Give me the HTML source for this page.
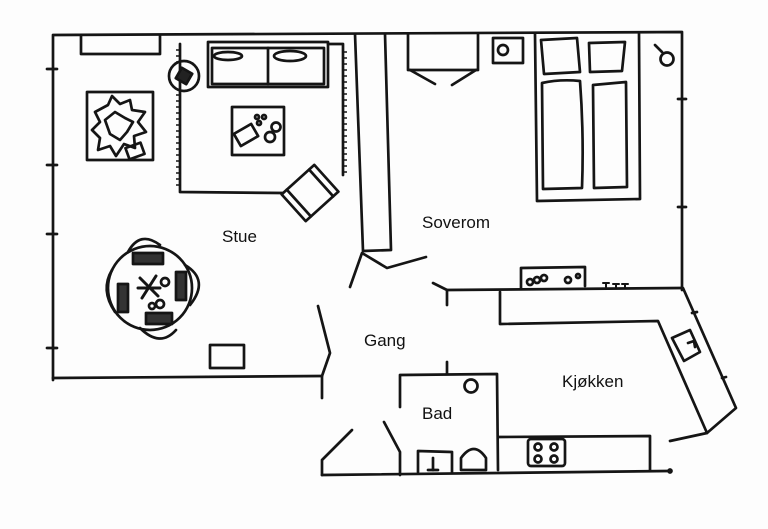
<!DOCTYPE html>
<html><head><meta charset="utf-8"><style>
html,body{margin:0;padding:0;background:#fff;}
svg{display:block}
text{font-family:"Liberation Sans",sans-serif;font-size:17px;fill:#111;}
</style></head><body>
<svg width="768" height="529" viewBox="0 0 768 529" xmlns="http://www.w3.org/2000/svg">
<rect width="768" height="529" fill="#fdfdfd"/>
<g fill="none" stroke="#151515" stroke-width="2.7" stroke-linecap="round" stroke-linejoin="round">
<polyline points="53,380 53,35 682,32 682,290"/>
<line x1="53" y1="378" x2="322" y2="376"/>
<line x1="47" y1="69" x2="57" y2="69"/><line x1="47" y1="165" x2="57" y2="165"/><line x1="47" y1="234" x2="57" y2="234"/><line x1="47" y1="348" x2="57" y2="348"/>
<line x1="678" y1="99" x2="686" y2="99"/><line x1="678" y1="207" x2="686" y2="207"/>
<polyline points="355,34 363,251 391,250 385,34"/>
<polyline points="350,287 362,253 387,268 426,257"/>
<polyline points="318,306 330,353 322,376 322,398"/>
<polyline points="352,430 322,460 322,475"/>
<polyline points="384,422 400,452 400,475"/>
<line x1="322" y1="475" x2="668" y2="471"/>
<circle cx="670" cy="471" r="1.5"/>
<polyline points="433,283 447,290 447,305"/>
<line x1="447" y1="290" x2="682" y2="288"/>
<polyline points="500,292 500,324 658,321 707,433 736,408 683,288"/>
<line x1="670" y1="441" x2="707" y2="433"/>
<polygon points="672,338 690,330 700,352 684,361"/>
<line x1="688" y1="343" x2="694" y2="341"/><line x1="694" y1="341" x2="695" y2="347"/>
<line x1="692" y1="313" x2="697" y2="312"/><line x1="722" y1="378" x2="726" y2="377"/>
<polyline points="400,407 400,375 497,374 498,470"/>
<line x1="447" y1="362" x2="447" y2="374"/>
<circle cx="471" cy="386" r="6.5"/>
<polyline points="418,472 418,451 452,452 452,472"/>
<line x1="433" y1="458" x2="433" y2="470"/><line x1="428" y1="470" x2="438" y2="470"/>
<path d="M461,470 L461,458 Q474,440 486,458 L486,470 Z"/>
<polyline points="498,437 650,436 650,470"/>
<rect x="528" y="439" width="37" height="27" rx="3"/>
<circle cx="538" cy="447" r="3.5"/><circle cx="554" cy="447" r="3.5"/><circle cx="538" cy="459" r="3.5"/><circle cx="554" cy="459" r="3.5"/>
<polyline points="521,288 521,268 585,267 585,286"/>
<circle cx="530" cy="282" r="3"/><circle cx="537" cy="280" r="3"/><circle cx="544" cy="278" r="3"/>
<circle cx="568" cy="280" r="3"/><circle cx="578" cy="276" r="2"/>
<path d="M603,283h6M606,283v4M613,284h6M616,284v4M622,284h6M625,284v4" stroke-width="2"/>
<polyline points="408,34 408,70 478,70 478,34"/>
<line x1="410" y1="70" x2="435" y2="84"/><line x1="476" y1="70" x2="452" y2="85"/>
<rect x="493" y="38" width="30" height="25"/>
<circle cx="503" cy="50" r="5"/>
<polyline points="535,34 537,201 640,199 639,34"/>
<path d="M541,40 L577,38 L580,72 L544,74 Z"/>
<path d="M589,43 L625,42 L622,71 L590,72 Z"/>
<path d="M542,83 Q560,79 580,81 Q584,135 582,188 L543,189 Z"/>
<path d="M593,85 L626,82 L627,187 L594,188 Z"/>
<circle cx="667" cy="59" r="6.5"/><line x1="655" y1="45" x2="662" y2="52"/>
<polyline points="81,36 81,54 160,54 160,36"/>
<rect x="208" y="42" width="120" height="45"/>
<rect x="212" y="48" width="112" height="36"/>
<line x1="268" y1="48" x2="268" y2="84"/>
<ellipse cx="228" cy="56" rx="14" ry="4"/><ellipse cx="290" cy="56" rx="16" ry="5"/>
<polyline points="180,44 180,192 283,193"/>
<polyline points="328,44 343,44 343,175"/>
<circle cx="184" cy="76" r="15"/>
<rect x="178" y="70" width="12" height="12" transform="rotate(30 184 76)" fill="#222"/>
<rect x="232" y="107" width="52" height="48"/>
<rect x="236" y="128" width="20" height="14" transform="rotate(-30 246 135)"/>
<circle cx="270" cy="137" r="5"/><circle cx="276" cy="127" r="4.5"/>
<circle cx="257" cy="117" r="2"/><circle cx="264" cy="117" r="2"/><circle cx="259" cy="123" r="2"/>
<g transform="rotate(-42 310 193)">
<rect x="288" y="175" width="44" height="36"/>
<line x1="295" y1="175" x2="295" y2="211"/><line x1="325" y1="175" x2="325" y2="211"/>
</g>
<rect x="87" y="92" width="66" height="68"/>
<path d="M95,112 L108,105 L112,96 L120,104 L130,100 L132,110 L145,112 L138,122 L146,132 L134,136 L135,148 L124,144 L116,156 L110,146 L98,150 L100,138 L92,130 L100,122 Z"/>
<path d="M105,120 L115,112 L125,118 L133,122 L127,132 L120,140 L110,134 Z"/>
<rect x="127" y="145" width="16" height="12" transform="rotate(-20 135 151)"/>
<circle cx="150" cy="288" r="42"/>
<path d="M128,252 Q140,230 160,245"/><path d="M185,265 Q210,280 190,305"/>
<path d="M115,312 Q100,290 112,270"/><path d="M140,328 Q160,348 176,330"/>
<rect x="133" y="253" width="30" height="11" fill="#333"/>
<rect x="176" y="272" width="10" height="28" fill="#333"/>
<rect x="118" y="284" width="10" height="28" fill="#333"/>
<rect x="146" y="313" width="26" height="11" fill="#333"/>
<circle cx="165" cy="282" r="4"/><circle cx="160" cy="304" r="4"/><circle cx="152" cy="306" r="3"/>
<path d="M140,278 L158,296 M156,276 L142,298 M138,288 L160,288" stroke-width="3"/>
<rect x="210" y="345" width="34" height="23"/>
</g>
<g stroke="#151515" stroke-width="1.4">
<path d="M176,50h5M176,56h5M176,62h5M176,95h5M176,101h5M176,107h5M176,113h5M176,119h5M176,125h5M176,131h5M176,137h5M176,143h5M176,149h5M176,155h5M176,161h5M176,167h5M176,173h5M176,179h5M176,185h5"/>
<path d="M342,52h5M342,58h5M342,64h5M342,70h5M342,76h5M342,82h5M342,88h5M342,94h5M342,100h5M342,106h5M342,112h5M342,118h5M342,124h5M342,130h5M342,136h5M342,142h5M342,148h5M342,154h5M342,160h5M342,166h5M342,172h5"/>
</g>
<text x="222" y="242">Stue</text>
<text x="422" y="228">Soverom</text>
<text x="364" y="346">Gang</text>
<text x="562" y="387">Kjøkken</text>
<text x="422" y="419">Bad</text>
</svg>
</body></html>
